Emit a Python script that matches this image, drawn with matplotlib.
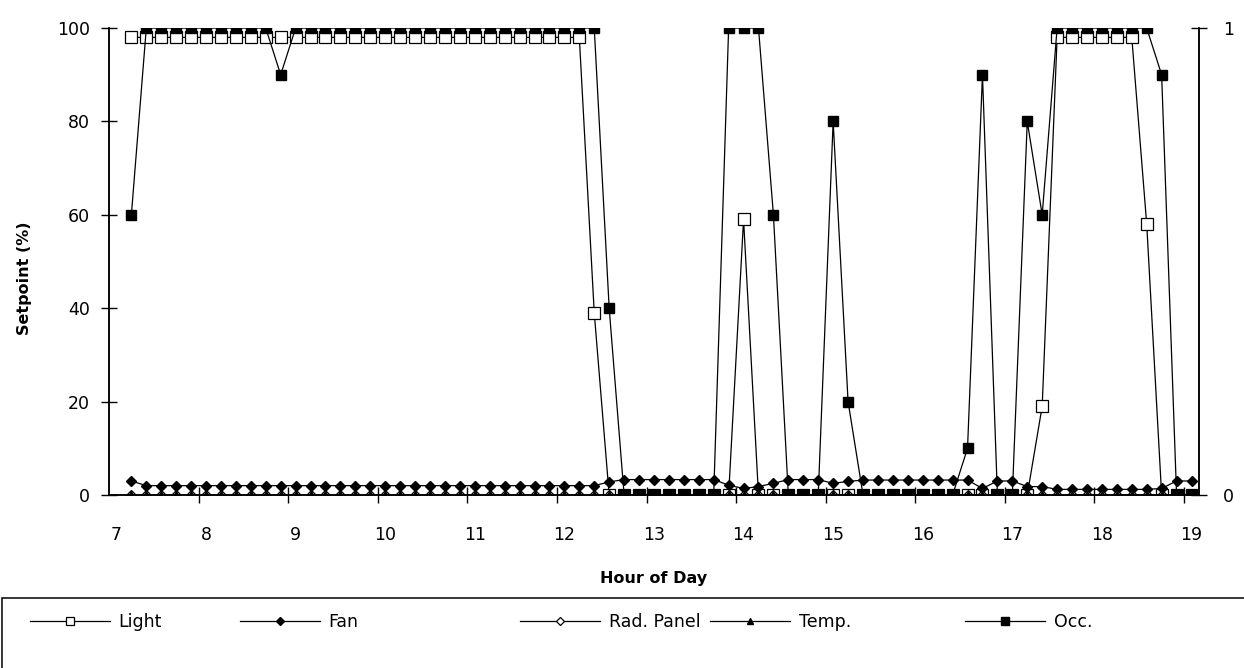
import numpy as np
import matplotlib.pyplot as plt
from matplotlib.patches import Rectangle
from matplotlib.ticker import FixedLocator

plt.rcParams['font.family'] = ['DejaVu Sans']

# 10-minute samples from 7:10 to 19:00
minutes = np.arange(10, 12 * 60 + 10, 10)
hours = 7 + minutes / 60

light = [98] * 31 + [39] + [0] * 9 + [59] + [0] * 19 + [19] + [98] * 6 + [58] + [0] * 3
fan = ([3.0] + [2.0] * 31 + [2.8] + [3.3] * 7 + [2.1, 1.4, 1.8, 2.5] + [3.3] * 3
       + [2.5, 2.9] + [3.2] * 8 + [1.4] + [3.0] * 2 + [1.8] * 2 + [1.2] * 7 + [1.4] + [3.0] * 2)
rad_panel = [0] * 72
temp = [0] * 72
occ = ([0.6] + [1.0] * 9 + [0.9] + [1.0] * 21 + [0.4] + [0] * 7 + [1.0] * 3 + [0.6]
       + [0] * 3 + [0.8, 0.2] + [0] * 7 + [0.1, 0.9] + [0] * 2 + [0.8, 0.6] + [1.0] * 7
       + [0.9] + [0] * 2)

hour_ticks = list(range(7, 20))
legend_x = [0.024, 0.193, 0.418, 0.571, 0.776]   # left edge of each legend entry

fig = plt.figure(figsize=(12.44, 6.68), dpi=100)
ax = fig.add_axes([0.0876, 0.259, 0.8762, 0.699])
ax2 = ax.twinx()

lw = 0.9
l1, = ax.plot(hours, light, color='black', lw=lw, marker='s', ms=8, mfc='white', mec='black', mew=0.9, label='Light')
l2, = ax.plot(hours, fan, color='black', lw=lw, marker='D', ms=5, mfc='black', mec='black', label='Fan')
l3, = ax.plot(hours, rad_panel, color='black', lw=lw, marker='D', ms=5, mfc='white', mec='black', mew=0.9, label='Rad. Panel')
l4, = ax.plot(hours, temp, color='black', lw=lw, marker='^', ms=6, mfc='black', mec='black', label='Temp.')
l5, = ax2.plot(hours, occ, color='black', lw=lw, marker='s', ms=7, mfc='black', mec='black', label='Occ.')

for a in (ax, ax2):
    a.set_xlim(7 - 1 / 12, 19 + 1 / 12)
    a.spines['top'].set_visible(False)
    a.patch.set_visible(False)
    for s in a.spines.values():
        s.set_linewidth(1.1)
ax.set_ylim(0, 100)
ax2.set_ylim(0, 1)
ax.set_zorder(2)
ax2.set_zorder(3)

ax.set_yticks([0, 20, 40, 60, 80, 100])
ax.tick_params(axis='y', direction='inout', length=11, width=1, labelsize=12.5, pad=8)
ax2.set_yticks([0, 1])
ax2.set_yticklabels(['0', '1'])
ax2.tick_params(axis='y', direction='inout', length=11, width=1, labelsize=12.5, pad=12)

ax.set_xticks(hour_ticks)
ax.set_xticklabels([str(h) for h in hour_ticks])
ax.xaxis.set_minor_locator(FixedLocator([h - 1 / 12 for h in hour_ticks[1:]]))
ax.tick_params(axis='x', which='major', length=0, labelsize=12.5, pad=22)
ax.tick_params(axis='x', which='minor', direction='inout', length=11, width=1)
ax2.tick_params(axis='x', which='both', length=0)

ax.set_ylabel('Setpoint (%)', fontsize=11.5, fontweight='bold')
ax.yaxis.set_label_coords(-0.0706, 0.465)
ax.set_xlabel('Hour of Day', fontsize=11.5, fontweight='bold', labelpad=20)

# legend box, running off the bottom/right edge as in the scan
fig.patches.append(Rectangle((0.002, -0.05), 1.05, 0.155, transform=fig.transFigure,
                             fill=False, edgecolor='black', lw=1.1))
for line, x in zip([l1, l2, l3, l4, l5], legend_x):
    fig.legend(handles=[line], loc='center left', bbox_to_anchor=(x, 0.069),
               frameon=False, fontsize=12.5, handlelength=4.6, handletextpad=0.5,
               borderpad=0, borderaxespad=0, markerscale=0.8)

fig.savefig('out.png', dpi=100)
